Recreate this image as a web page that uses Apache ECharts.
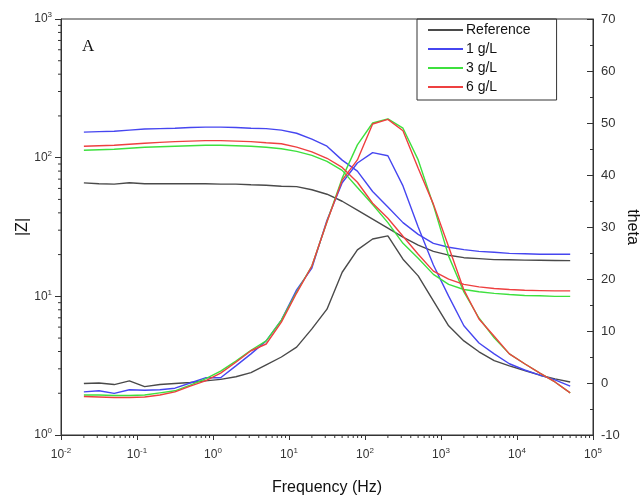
<!DOCTYPE html>
<html>
<head>
<meta charset="utf-8">
<script src="https://cdn.jsdelivr.net/npm/echarts@6/dist/echarts.min.js"></script>
<style>
html,body{margin:0;padding:0;background:#fff;}
#chart{width:644px;height:497px;}
</style>
</head>
<body>
<div id="chart"></div>
<script>
// Frequency (Hz)
const freq = [0.02, 0.0316, 0.0501, 0.0794, 0.126, 0.2, 0.316, 0.501, 0.794, 1.26, 2, 3.16, 5.01, 7.94, 12.6, 20, 31.6, 50.1, 79.4, 126, 200, 316, 501, 794, 1260, 2000, 3160, 5010, 7940, 12600, 20000, 31600, 50100];
const seriesNames = ['Reference', '1 g/L', '3 g/L', '6 g/L'];
// |Z| values
const zRef = [65.8, 64.9, 64.4, 65.9, 64.9, 64.9, 64.9, 64.9, 64.9, 64.4, 64.4, 63.8, 63.3, 62.2, 61.8, 58.7, 54.5, 48.5, 41.8, 36.0, 31.0, 26.7, 23.4, 21.1, 19.8, 19.0, 18.7, 18.4, 18.35, 18.25, 18.2, 18.15, 18.1];
const z1 = [152.8, 154, 155, 158, 161, 162, 163, 165, 166, 166, 165, 163, 162, 158, 150, 136, 121, 96, 80, 57, 44, 34, 28, 24.1, 22.6, 21.7, 21.1, 20.8, 20.4, 20.3, 20.1, 20.1, 20.1];
const z3 = [113, 114, 115, 117, 119, 120, 121, 122, 123, 123, 122, 121, 119, 116, 111, 104, 94, 81, 61, 46, 34, 24.1, 18.8, 14.4, 12.2, 11.2, 10.8, 10.5, 10.3, 10.15, 10.1, 10.0, 10.0];
const z6 = [121, 122, 123, 125, 127, 129, 130.5, 131.6, 132.7, 132.7, 131.6, 130.5, 128, 126, 119, 110, 99, 85, 66.5, 46.9, 36.6, 27.1, 20.1, 15.2, 13.3, 12.2, 11.7, 11.4, 11.2, 11.05, 11.0, 10.95, 10.95];
// theta values
const tRef = [-0.1, 0.0, -0.3, 0.4, -0.7, -0.3, -0.1, 0.1, 0.4, 0.7, 1.2, 2.0, 3.5, 5.0, 6.9, 10.4, 14.2, 21.3, 25.6, 27.7, 28.3, 23.8, 20.6, 15.8, 11.0, 8.1, 6.0, 4.3, 3.3, 2.4, 1.5, 0.8, 0.2];
const t1 = [-1.7, -1.5, -2.0, -1.3, -1.4, -1.3, -1.0, 0.0, 1.0, 1.0, 3.3, 5.6, 8.1, 12.1, 17.9, 22.1, 31.3, 38.5, 42.3, 44.3, 43.7, 37.9, 30.0, 22.7, 16.7, 11.0, 7.7, 5.6, 3.7, 2.5, 1.5, 0.6, -0.6];
const t3 = [-2.3, -2.3, -2.4, -2.4, -2.3, -1.9, -1.5, -0.4, 0.8, 2.3, 4.2, 6.3, 8.1, 12.1, 17.5, 22.5, 31.0, 39.4, 45.8, 50.0, 50.8, 49.0, 42.9, 34.2, 24.4, 17.5, 12.5, 8.7, 5.6, 3.7, 1.9, 0.2, -1.9];
const t6 = [-2.6, -2.7, -2.8, -2.8, -2.7, -2.3, -1.7, -0.6, 0.4, 1.9, 4.0, 6.2, 7.5, 11.7, 17.3, 22.5, 31.0, 39.0, 42.9, 49.8, 50.7, 48.5, 41.3, 34.4, 26.2, 17.9, 12.3, 9.0, 5.6, 3.7, 1.9, 0.2, -1.9];
const thetaTicks = [-10, 0, 10, 20, 30, 40, 50, 60, 70];

const colors = ['#4a4a4a', '#4646f0', '#3ee03e', '#ee4040'];
const zSets = [zRef, z1, z3, z6];
const tSets = [tRef, t1, t3, t6];

const FONT = '"Liberation Sans", Arial, sans-serif';
const pair = (arr) => freq.map((f, i) => [f, arr[i]]);

// minor tick positions for the log axes (2..9 x 10^n)
const xMinor = [];
for (let n = -2; n < 5; n++) for (let k = 2; k <= 9; k++) xMinor.push([k * Math.pow(10, n), 1]);
const yMinor = [];
for (let n = 0; n < 3; n++) for (let k = 2; k <= 9; k++) yMinor.push([0.01, k * Math.pow(10, n)]);

const supLabel = (v) => '{b|10}{s|' + Math.round(Math.log10(v)) + '}';
const richSup = {
  b: { fontSize: 12, color: '#333', fontFamily: FONT },
  s: { fontSize: 8, color: '#333', fontFamily: FONT, padding: [0, 0, 8, 0] }
};

const series = [];
seriesNames.forEach((name, i) => {
  series.push({
    name, type: 'line', xAxisIndex: 0, yAxisIndex: 0, data: pair(zSets[i]),
    symbol: 'none', lineStyle: { color: colors[i], width: 1.4 }, itemStyle: { color: colors[i] },
    silent: true, animation: false, z: 2 + i
  });
  series.push({
    name, type: 'line', xAxisIndex: 0, yAxisIndex: 1, data: pair(tSets[i]),
    symbol: 'none', lineStyle: { color: colors[i], width: 1.4 }, itemStyle: { color: colors[i] },
    silent: true, animation: false, z: 2 + i
  });
});
series.push({
  type: 'custom', xAxisIndex: 0, yAxisIndex: 0, data: xMinor, silent: true, animation: false, clip: false,
  renderItem: (params, api) => {
    const p = api.coord([api.value(0), 1]);
    return { type: 'line', shape: { x1: p[0], y1: p[1], x2: p[0], y2: p[1] + 3 }, style: { stroke: '#333', lineWidth: 1 } };
  }
});
series.push({
  type: 'custom', xAxisIndex: 0, yAxisIndex: 0, data: yMinor, silent: true, animation: false, clip: false,
  renderItem: (params, api) => {
    const p = api.coord([0.01, api.value(1)]);
    return { type: 'line', shape: { x1: p[0] - 3, y1: p[1], x2: p[0], y2: p[1] }, style: { stroke: '#333', lineWidth: 1 } };
  }
});

const chart = echarts.init(document.getElementById('chart'), null, { renderer: 'canvas' });
chart.setOption({
  animation: false,
  backgroundColor: '#fff',
  textStyle: { fontFamily: FONT },
  grid: { left: 61, right: 51, top: 19, bottom: 62, show: true, borderColor: '#333', borderWidth: 1,
    backgroundColor: 'transparent', containLabel: false, outerBoundsMode: 'none' },
  legend: {
    data: seriesNames, orient: 'vertical', left: 417, top: 19, itemWidth: 35, itemHeight: 2, itemGap: 5,
    icon: 'rect', borderColor: '#333', borderWidth: 1, padding: [4, 26, 6, 11],
    textStyle: { fontSize: 14, color: '#111', fontFamily: FONT, padding: [0, 0, 0, -2] },
    selectedMode: false
  },
  xAxis: {
    type: 'log', logBase: 10, min: 0.01, max: 100000, splitNumber: 7,
    name: 'Frequency (Hz)', nameLocation: 'middle', nameGap: 45,
    nameTextStyle: { fontSize: 16, color: '#111', fontFamily: FONT },
    axisLine: { onZero: false, lineStyle: { color: '#333' } },
    axisTick: { show: true, length: 5, lineStyle: { color: '#333' } },
    splitLine: { show: false },
    axisLabel: { margin: 12, formatter: supLabel, rich: richSup }
  },
  yAxis: [{
    type: 'log', logBase: 10, min: 1, max: 1000, splitNumber: 3, position: 'left',
    name: '|Z|', nameLocation: 'middle', nameGap: 30, nameMoveOverlap: false,
    nameTextStyle: { fontSize: 16, color: '#111', fontFamily: FONT },
    axisLine: { show: true, onZero: false, lineStyle: { color: '#333' } },
    axisTick: { show: true, length: 6, lineStyle: { color: '#333' } },
    splitLine: { show: false },
    axisLabel: { margin: 9, formatter: supLabel, rich: richSup }
  }, {
    type: 'value', min: -10, max: 70, interval: 10, position: 'right',
    name: 'theta', nameLocation: 'middle', nameGap: 31, nameRotate: -90, nameMoveOverlap: false,
    nameTextStyle: { fontSize: 16, color: '#111', fontFamily: FONT },
    axisLine: { show: true, onZero: false, lineStyle: { color: '#333' } },
    axisTick: { show: true, inside: true, length: 6, lineStyle: { color: '#333' } },
    minorTick: { show: true, splitNumber: 2, length: 3, lineStyle: { color: '#333' } },
    splitLine: { show: false },
    axisLabel: { margin: 8, fontSize: 13, color: '#333', fontFamily: FONT,
      formatter: (v) => thetaTicks.includes(v) ? String(v) : '' }
  }],
  graphic: [{
    type: 'text', left: 82, top: 38,
    style: { text: 'A', font: '17px "Liberation Serif", "Times New Roman", serif', fill: '#111' }
  }],
  series
});
</script>
</body>
</html>
